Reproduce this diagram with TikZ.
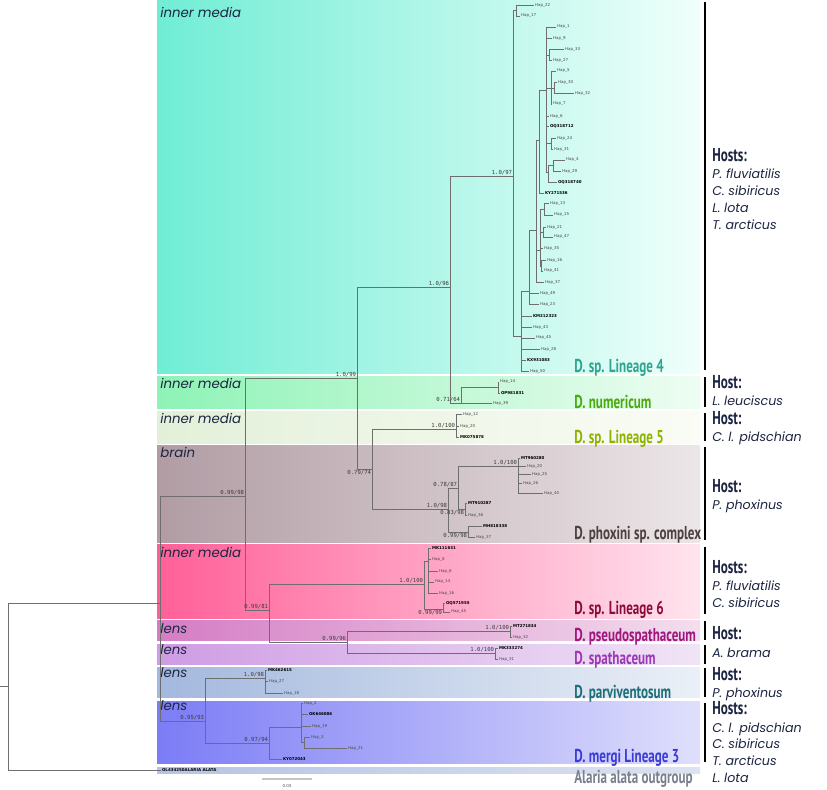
\documentclass[tikz,border=0pt]{standalone}
\usepackage{fontspec}
\usetikzlibrary{positioning}

\newfontfamily\cladefont[FakeStretch=0.7]{PT Sans}
\newfontfamily\geofont{Poppins}
\newfontfamily\supfont{DejaVu Sans Mono}
\newfontfamily\tipfont{DejaVu Sans}

\definecolor{treegray}{HTML}{6E6E6E}
\definecolor{tipgray}{HTML}{4A4A4A}
\definecolor{supgray}{HTML}{3A3A3A}
\definecolor{inkblue}{HTML}{1C2541}
% band colours
\definecolor{bandAl}{HTML}{70EDD5}\definecolor{bandAr}{HTML}{F0FFFB}
\definecolor{bandBl}{HTML}{8EF3B6}\definecolor{bandBr}{HTML}{EEFDF2}
\definecolor{bandCl}{HTML}{E3F0D9}\definecolor{bandCr}{HTML}{FAFCF5}
\definecolor{bandDl}{HTML}{B19CA4}\definecolor{bandDr}{HTML}{ECE6E8}
\definecolor{bandEl}{HTML}{FF5F97}\definecolor{bandEr}{HTML}{FFE4EE}
\definecolor{bandFl}{HTML}{D47DC4}\definecolor{bandFr}{HTML}{F3DEEE}
\definecolor{bandGl}{HTML}{CE9CE4}\definecolor{bandGr}{HTML}{F1E4F6}
\definecolor{bandHl}{HTML}{A3B8DE}\definecolor{bandHr}{HTML}{EBF0F7}
\definecolor{bandIl}{HTML}{7C7CF6}\definecolor{bandIr}{HTML}{DFDFFC}
\definecolor{bandJl}{HTML}{B5C4E4}\definecolor{bandJr}{HTML}{DCE3F1}
% clade label colours
\definecolor{cLfour}{HTML}{2FA58F}
\definecolor{cNum}{HTML}{4BAA0E}
\definecolor{cLfive}{HTML}{8DB300}
\definecolor{cPhox}{HTML}{4D403F}
\definecolor{cLsix}{HTML}{8C0B3C}
\definecolor{cPseudo}{HTML}{A0157E}
\definecolor{cSpath}{HTML}{9B38B5}
\definecolor{cParv}{HTML}{1F6E78}
\definecolor{cMergi}{HTML}{3B3BD6}
\definecolor{cOut}{HTML}{7B8090}

\tikzstyle{branch}=[draw=treegray, line width=0.5pt]
\tikzstyle{tip}=[anchor=west, inner sep=0.6pt, font=\tipfont\fontsize{3}{3}\selectfont, text=tipgray]
\tikzstyle{acc}=[tip, font=\tipfont\bfseries\fontsize{3}{3}\selectfont, text=black]
\tikzstyle{sup}=[anchor=south east, inner sep=0.5pt, font=\supfont\fontsize{4.2}{4.2}\selectfont, text=supgray]
\tikzstyle{supbelow}=[sup, anchor=north east]
\tikzstyle{tissue}=[anchor=base west, inner sep=0pt, font=\geofont\itshape\fontsize{10}{12}\selectfont, text=inkblue]
\tikzstyle{clade}=[anchor=base west, inner sep=0pt, font=\cladefont\bfseries\fontsize{14}{16}\selectfont]
\tikzstyle{hosthead}=[clade, text=inkblue]
\tikzstyle{host}=[anchor=base west, inner sep=0pt, font=\geofont\itshape\fontsize{9.5}{11}\selectfont, text=inkblue]
\tikzstyle{hostbar}=[line width=1.8pt, black]
\tikzstyle{scalebar}=[line width=0.9pt, gray!45]

\begin{document}
\begin{tikzpicture}[x=0.75pt, y=-0.75pt]
      \fill[white] (0,0) rectangle (827,789);
      \useasboundingbox (0,0) rectangle (827,789);

      %%%%%%%%%%%%%%%%%%%%%%%%%%%%%%%%%%%%%%%%%%
      % CLADE BANDS
      %%%%%%%%%%%%%%%%%%%%%%%%%%%%%%%%%%%%%%%%%%
      \shade[left color=bandAl, right color=bandAr] (157,0)   rectangle (700,373);
      \shade[left color=bandBl, right color=bandBr] (157,376) rectangle (700,408);
      \shade[left color=bandCl, right color=bandCr] (157,411) rectangle (700,443);
      \shade[left color=bandDl, right color=bandDr] (157,445) rectangle (700,542);
      \shade[left color=bandEl, right color=bandEr] (157,544) rectangle (700,618);
      \shade[left color=bandFl, right color=bandFr] (157,620) rectangle (700,640);
      \shade[left color=bandGl, right color=bandGr] (157,644) rectangle (700,664);
      \shade[left color=bandHl, right color=bandHr] (157,667) rectangle (700,697);
      \shade[left color=bandIl, right color=bandIr] (157,701) rectangle (700,763);
      \shade[left color=bandJl, right color=bandJr] (157,767) rectangle (700,773);

      \node[tissue] (TS1) at (160,17)  {inner media};
      \node[tissue] (TS2) at (160,388) {inner media};
      \node[tissue] (TS3) at (160,423) {inner media};
      \node[tissue] (TS4) at (160,457) {brain};
      \node[tissue] (TS5) at (160,557) {inner media};
      \node[tissue] (TS6) at (160,633) {lens};
      \node[tissue] (TS7) at (160,654) {lens};
      \node[tissue] (TS8) at (160,677) {lens};
      \node[tissue] (TS9) at (160,710) {lens};

      %%%%%%%%%%%%%%%%%%%%%%%%%%%%%%%%%%%%%%%%%%
      % BACKBONE
      %%%%%%%%%%%%%%%%%%%%%%%%%%%%%%%%%%%%%%%%%%
      \coordinate (Rs)    at (0,686);
      \coordinate (R)     at (8,686);
      \coordinate (IN)    at (160,603);
      \coordinate (N9998) at (245,496);
      \coordinate (N99)   at (357,378);
      \coordinate (N96)   at (450,287);
      \coordinate (N74)   at (372,469);
      \coordinate (N81)   at (269,610);
      \coordinate (N93)   at (205,721);
      \node[acc] (OG) at (161,770) {OL434250ALARIA ALATA};

      \draw[branch] (Rs) -- (R);
      \draw[branch] (R) |- (IN) (R) |- (OG.west);
      \draw[branch] (IN) |- (N9998) (IN) |- (N93);
      \draw[branch] (N9998) |- (N99) (N9998) |- (N81);
      \draw[branch] (N99) |- (N96) (N99) |- (N74);

      %%%%%%%%%%%%%%%%%%%%%%%%%%%%%%%%%%%%%%%%%%
      % LINEAGE 4
      %%%%%%%%%%%%%%%%%%%%%%%%%%%%%%%%%%%%%%%%%%
      \coordinate (L4)   at (513,176);
      \coordinate (L4a)  at (516,10.5);
      \coordinate (L4b)  at (521,336);
      \coordinate (L4c)  at (529,291);
      \coordinate (L4e)  at (536,230);
      \coordinate (L4d2) at (539,140);
      \coordinate (L4d1) at (546,90);
      \coordinate (L4g)  at (549,55);
      \coordinate (L4h)  at (551,88);
      \coordinate (L4i)  at (554,88);
      \coordinate (L4j)  at (551,143);
      \coordinate (L4k)  at (548,172);
      \coordinate (L4l)  at (553,165);
      \coordinate (L4m)  at (540,250);
      \coordinate (L4n1) at (544,209);
      \coordinate (L4n2) at (543,232);
      \coordinate (L4n3) at (541,266);

      \node[tip] (T1)  at (534,5)   {Hap\_22};
      \node[tip] (T2)  at (520,16)  {Hap\_17};
      \node[tip] (T3)  at (556,27)  {Hap\_1};
      \node[tip] (T4)  at (552,38)  {Hap\_9};
      \node[tip] (T5)  at (564,49)  {Hap\_33};
      \node[tip] (T6)  at (552,60)  {Hap\_27};
      \node[tip] (T7)  at (556,71)  {Hap\_5};
      \node[tip] (T8)  at (557,82)  {Hap\_30};
      \node[tip] (T9)  at (574,93)  {Hap\_32};
      \node[tip] (T10) at (552,104) {Hap\_7};
      \node[tip] (T11) at (549,116) {Hap\_6};
      \node[acc] (T12) at (549,126) {OQ318712};
      \node[tip] (T13) at (556,138) {Hap\_24};
      \node[tip] (T14) at (553,149) {Hap\_31};
      \node[tip] (T15) at (565,160) {Hap\_4};
      \node[tip] (T16) at (561,171) {Hap\_29};
      \node[acc] (T17) at (557,182) {OQ318740};
      \node[acc] (T18) at (544,193) {KY271536};
      \node[tip] (T19) at (549,203) {Hap\_13};
      \node[tip] (T20) at (553,215) {Hap\_15};
      \node[tip] (T21) at (546,227) {Hap\_21};
      \node[tip] (T22) at (553,237) {Hap\_47};
      \node[tip] (T23) at (543,248) {Hap\_35};
      \node[tip] (T24) at (546,260) {Hap\_16};
      \node[tip] (T25) at (543,271) {Hap\_41};
      \node[tip] (T26) at (544,282) {Hap\_37};
      \node[tip] (T27) at (539,293) {Hap\_49};
      \node[tip] (T28) at (539,304) {Hap\_23};
      \node[acc] (T29) at (532,316) {KM212323};
      \node[tip] (T30) at (532,327) {Hap\_43};
      \node[tip] (T31) at (535,338) {Hap\_45};
      \node[tip] (T32) at (540,349) {Hap\_28};
      \node[acc] (T33) at (526,360) {KX931083};
      \node[tip] (T34) at (529,371) {Hap\_50};

      \draw[branch] (N96) |- (L4);
      \draw[branch] (L4) |- (L4a) (L4) |- (L4b);
      \draw[branch] (L4b) |- (L4c) (L4c) |- (L4e) (L4e) |- (L4d2) (L4e) |- (L4m);
      \draw[branch] (L4d2) |- (L4d1) (L4d1) |- (L4g) (L4d1) |- (L4h) (L4h) |- (L4i);
      \draw[branch] (L4d1) |- (L4j) (L4d1) |- (L4k) (L4k) |- (L4l);
      \draw[branch] (L4m) |- (L4n1) (L4m) |- (L4n2) (L4m) |- (L4n3);
      \foreach \p/\t in {L4a/T1, L4a/T2, L4d1/T3, L4d1/T4, L4g/T5, L4g/T6, L4h/T7,
                         L4i/T8, L4i/T9, L4h/T10, L4d1/T11, L4d1/T12, L4j/T13, L4j/T14,
                         L4l/T15, L4l/T16, L4k/T17, L4d2/T18, L4n1/T19, L4n1/T20,
                         L4n2/T21, L4n2/T22, L4m/T23, L4n3/T24, L4n3/T25, L4e/T26,
                         L4c/T27, L4c/T28, L4b/T29, L4b/T30, L4b/T31, L4b/T32,
                         L4b/T33, L4b/T34}
        \draw[branch] (\p) |- (\t.west);

      %%%%%%%%%%%%%%%%%%%%%%%%%%%%%%%%%%%%%%%%%%
      % NUMERICUM + LINEAGE 5
      %%%%%%%%%%%%%%%%%%%%%%%%%%%%%%%%%%%%%%%%%%
      \coordinate (N64)  at (461,403);
      \coordinate (N64a) at (498,387);
      \coordinate (L5)   at (456,429);
      \node[tip] (U1) at (499,382) {Hap\_14};
      \node[acc] (U2) at (500,393) {OP981831};
      \node[tip] (U3) at (492,403) {Hap\_39};
      \node[tip] (V1) at (462,414) {Hap\_12};
      \node[tip] (V2) at (459,426) {Hap\_20};
      \node[acc] (V3) at (459,437) {MK075878};

      \draw[branch] (N96) |- (N64) (N64) |- (N64a) (N74) |- (L5);
      \foreach \p/\t in {N64a/U1, N64a/U2, N64/U3, L5/V1, L5/V2, L5/V3}
        \draw[branch] (\p) |- (\t.west);

      %%%%%%%%%%%%%%%%%%%%%%%%%%%%%%%%%%%%%%%%%%
      % PHOXINI COMPLEX
      %%%%%%%%%%%%%%%%%%%%%%%%%%%%%%%%%%%%%%%%%%
      \coordinate (N98)  at (448,509);
      \coordinate (N87)  at (458,488);
      \coordinate (PX)   at (518,466);
      \coordinate (N83)  at (465,509);
      \coordinate (N99b) at (468,532);
      \node[acc] (W1) at (520,458) {MT960280};
      \node[tip] (W2) at (526,466) {Hap\_20};
      \node[tip] (W3) at (531,474) {Hap\_25};
      \node[tip] (W4) at (522,483) {Hap\_26};
      \node[tip] (W5) at (543,493) {Hap\_40};
      \node[acc] (W6) at (467,503) {MT910287};
      \node[tip] (W7) at (467,515) {Hap\_36};
      \node[acc] (W8) at (482,526) {MH818338};
      \node[tip] (W9) at (475,537) {Hap\_37};

      \draw[branch] (N74) |- (N98) (N98) |- (N87) (N98) |- (N99b);
      \draw[branch] (N87) |- (PX) (N87) |- (N83);
      \foreach \p/\t in {PX/W1, PX/W2, PX/W3, PX/W4, PX/W5, N83/W6, N83/W7,
                         N99b/W8, N99b/W9}
        \draw[branch] (\p) |- (\t.west);

      %%%%%%%%%%%%%%%%%%%%%%%%%%%%%%%%%%%%%%%%%%
      % LINEAGE 6, PSEUDOSPATHACEUM, SPATHACEUM
      %%%%%%%%%%%%%%%%%%%%%%%%%%%%%%%%%%%%%%%%%%
      \coordinate (L6)   at (424,584);
      \coordinate (L6a)  at (428,561);
      \coordinate (L6b)  at (443,609);
      \coordinate (N96b) at (347,642);
      \coordinate (PS)   at (510,631);
      \coordinate (SP)   at (495,653);
      \node[acc] (X1) at (431,548) {MK111631};
      \node[tip] (X2) at (431,559) {Hap\_8};
      \node[tip] (X3) at (438,571) {Hap\_6};
      \node[tip] (X4) at (434,582) {Hap\_14};
      \node[tip] (X5) at (438,593) {Hap\_16};
      \node[acc] (X6) at (445,603) {OQ571955};
      \node[tip] (X7) at (450,612) {Hap\_45};
      \node[acc] (Y1) at (512,626) {MT271834};
      \node[tip] (Y2) at (512,637) {Hap\_32};
      \node[acc] (Y3) at (498,648) {MK333274};
      \node[tip] (Y4) at (498,659) {Hap\_31};

      \draw[branch] (N81) |- (L6) (N81) |- (N96b);
      \draw[branch] (L6) |- (L6a) (L6) |- (L6b) (N96b) |- (PS) (N96b) |- (SP);
      \foreach \p/\t in {L6a/X1, L6a/X2, L6a/X3, L6a/X4, L6a/X5, L6b/X6, L6b/X7,
                         PS/Y1, PS/Y2, SP/Y3, SP/Y4}
        \draw[branch] (\p) |- (\t.west);

      %%%%%%%%%%%%%%%%%%%%%%%%%%%%%%%%%%%%%%%%%%
      % PARVIVENTOSUM + MERGI
      %%%%%%%%%%%%%%%%%%%%%%%%%%%%%%%%%%%%%%%%%%
      \coordinate (PV)  at (265,678);
      \coordinate (MG)  at (269,743);
      \coordinate (MGa) at (301,727);
      \coordinate (MGb) at (304,742);
      \node[acc] (Z1) at (267,670) {MK462615};
      \node[tip] (Z2) at (268,681) {Hap\_27};
      \node[tip] (Z3) at (283,693) {Hap\_18};
      \node[tip] (Z4) at (303,703) {Hap\_2};
      \node[acc] (Z5) at (308,714) {OK646086};
      \node[tip] (Z6) at (311,726) {Hap\_19};
      \node[tip] (Z7) at (310,737) {Hap\_3};
      \node[tip] (Z8) at (347,748) {Hap\_21};
      \node[acc] (Z9) at (282,759) {KY072043};

      \draw[branch] (N93) |- (PV) (N93) |- (MG) (MG) |- (MGa) (MGa) |- (MGb);
      \foreach \p/\t in {PV/Z1, PV/Z2, PV/Z3, MGa/Z4, MGa/Z5, MGa/Z6, MGb/Z7,
                         MGb/Z8, MG/Z9}
        \draw[branch] (\p) |- (\t.west);

      %%%%%%%%%%%%%%%%%%%%%%%%%%%%%%%%%%%%%%%%%%
      % SUPPORT VALUES
      %%%%%%%%%%%%%%%%%%%%%%%%%%%%%%%%%%%%%%%%%%
      \node[sup]      (s1)  at (L4)    {1.0/97};
      \node[sup]      (s2)  at (N96)   {1.0/96};
      \node[sup]      (s3)  at (N99)   {1.0/99};
      \node[sup]      (s4)  at (N64)   {0.71/64};
      \node[supbelow] (s5)  at (N74)   {0.79/74};
      \node[sup]      (s6)  at (L5)    {1.0/100};
      \node[sup]      (s7)  at (N98)   {1.0/98};
      \node[sup]      (s8)  at (N87)   {0.78/87};
      \node[sup]      (s9)  at (PX)    {1.0/100};
      \node[supbelow] (s10) at (N83)   {0.83/98};
      \node[supbelow] (s11) at (N99b)  {0.99/98};
      \node[sup]      (s12) at (N9998) {0.99/98};
      \node[sup]      (s13) at (N81)   {0.99/81};
      \node[sup]      (s14) at (L6)    {1.0/100};
      \node[supbelow] (s15) at (L6b)   {0.99/99};
      \node[sup]      (s16) at (N96b)  {0.99/96};
      \node[sup]      (s17) at (PS)    {1.0/100};
      \node[sup]      (s18) at (SP)    {1.0/100};
      \node[sup]      (s19) at (PV)    {1.0/98};
      \node[sup]      (s20) at (MG)    {0.97/94};
      \node[sup]      (s21) at (N93)   {0.95/93};

      % scale bar
      \coordinate (SB1) at (262,779);
      \coordinate (SB2) at (312,779);
      \draw[scalebar] (SB1) -- (SB2);
      \node[tip, anchor=center] (SBL) at (287,786) {0.03};

      %%%%%%%%%%%%%%%%%%%%%%%%%%%%%%%%%%%%%%%%%%
      % CLADE NAMES
      %%%%%%%%%%%%%%%%%%%%%%%%%%%%%%%%%%%%%%%%%%
      \node[clade, text=cLfour]  (C1)  at (574,372) {D. sp. Lineage 4};
      \node[clade, text=cNum]    (C2)  at (574,408) {D. numericum};
      \node[clade, text=cLfive]  (C3)  at (574,443) {D. sp. Lineage 5};
      \node[clade, text=cPhox]   (C4)  at (574,539) {D. phoxini sp. complex};
      \node[clade, text=cLsix]   (C5)  at (574,614) {D. sp. Lineage 6};
      \node[clade, text=cPseudo] (C6)  at (574,641) {D. pseudospathaceum};
      \node[clade, text=cSpath]  (C7)  at (574,664) {D. spathaceum};
      \node[clade, text=cParv]   (C8)  at (574,698) {D. parviventosum};
      \node[clade, text=cMergi]  (C9)  at (574,762) {D. mergi Lineage 3};
      \node[clade, text=cOut]    (C10) at (574,783) {Alaria alata outgroup};

      %%%%%%%%%%%%%%%%%%%%%%%%%%%%%%%%%%%%%%%%%%
      % HOSTS
      %%%%%%%%%%%%%%%%%%%%%%%%%%%%%%%%%%%%%%%%%%
      \draw[hostbar] (705,2)   -- (705,370);
      \draw[hostbar] (705,377) -- (705,407);
      \draw[hostbar] (705,413) -- (705,441);
      \draw[hostbar] (705,447) -- (705,540);
      \draw[hostbar] (705,547) -- (705,614);
      \draw[hostbar] (705,621) -- (705,640);
      \draw[hostbar] (705,645) -- (705,664);
      \draw[hostbar] (705,668) -- (705,697);
      \draw[hostbar] (705,703) -- (705,762);

      \node[hosthead] (H1) at (712,161) {Hosts:};
      \node[host, below=12.75pt of H1.base west, anchor=base west]  (H1a) {P. fluviatilis};
      \node[host, below=12.75pt of H1a.base west, anchor=base west] (H1b) {C. sibiricus};
      \node[host, below=12.75pt of H1b.base west, anchor=base west] (H1c) {L. lota};
      \node[host, below=12.75pt of H1c.base west, anchor=base west] (H1d) {T. arcticus};

      \node[hosthead] (H2) at (712,388) {Host:};
      \node[host, below=12.75pt of H2.base west, anchor=base west]  (H2a) {L. leuciscus};

      \node[hosthead] (H3) at (712,424) {Host:};
      \node[host, below=12.75pt of H3.base west, anchor=base west]  (H3a) {C. l. pidschian};

      \node[hosthead] (H4) at (712,492) {Host:};
      \node[host, below=12.75pt of H4.base west, anchor=base west]  (H4a) {P. phoxinus};

      \node[hosthead] (H5) at (712,573) {Hosts:};
      \node[host, below=12.75pt of H5.base west, anchor=base west]  (H5a) {P. fluviatilis};
      \node[host, below=12.75pt of H5a.base west, anchor=base west] (H5b) {C. sibiricus};

      \node[hosthead] (H6) at (712,639) {Host:};
      \node[host, below=13.5pt of H6.base west, anchor=base west]   (H6a) {A. brama};

      \node[hosthead] (H7) at (712,680) {Host:};
      \node[host, below=12.75pt of H7.base west, anchor=base west]  (H7a) {P. phoxinus};

      \node[hosthead] (H8) at (712,714) {Hosts:};
      \node[host, below=13.5pt of H8.base west, anchor=base west]   (H8a) {C. l. pidschian};
      \node[host, below=12.5pt of H8a.base west, anchor=base west]  (H8b) {C. sibiricus};
      \node[host, below=12.5pt of H8b.base west, anchor=base west]  (H8c) {T. arcticus};
      \node[host, below=12.5pt of H8c.base west, anchor=base west]  (H8d) {L. lota};

\end{tikzpicture}
\end{document}
